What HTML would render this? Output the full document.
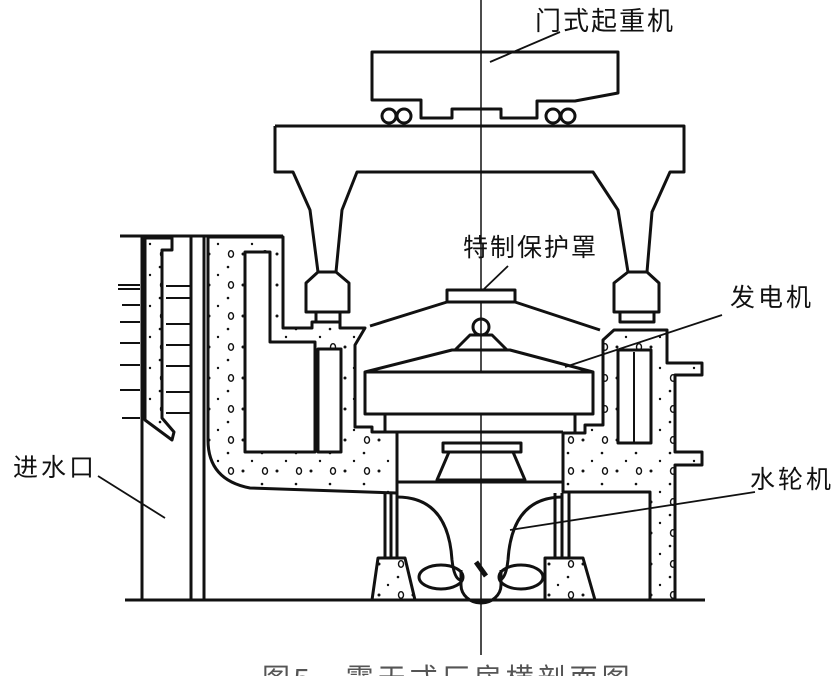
<!DOCTYPE html>
<html><head><meta charset="utf-8"><style>
html,body{margin:0;padding:0;background:#fff;}
svg{display:block;}
text{font-family:"Liberation Sans","Noto Sans CJK SC",sans-serif;fill:#111;}
</style></head><body>
<svg width="835" height="676" viewBox="0 0 835 676" xmlns="http://www.w3.org/2000/svg">
<defs>
<pattern id="dots" width="34" height="31" patternUnits="userSpaceOnUse">
<rect width="34" height="31" fill="#fff"/>
<circle cx="5" cy="6" r="1.5" fill="#111"/>
<circle cx="24" cy="19" r="1.3" fill="#111"/>
<circle cx="14" cy="27" r="1.2" fill="#111"/>
<ellipse cx="27" cy="6" rx="2.5" ry="3.3" fill="none" stroke="#111" stroke-width="1.4"/>
</pattern>
</defs>
<g fill="none" stroke="#111" stroke-width="3" stroke-linejoin="round">
<line x1="481" y1="0" x2="481" y2="655" stroke-width="1.5"/>
<!-- trolley -->
<path d="M372,52 L618,52 L618,93 L575,101 L537,101 L537,118 L501,118 L501,109 L452,109 L452,118 L421,118 L421,100 L372,100 Z"/>
<circle cx="389" cy="116" r="7"/><circle cx="404" cy="116" r="7"/>
<circle cx="553" cy="116" r="7"/><circle cx="568" cy="116" r="7"/>
<!-- gantry -->
<path d="M275,126 L684,126 L684,172 L670,172 L652,212 L647,272 M628,272 L618,210 L593,172 L357,172 L342,210 L336,272 M318,272 L310,210 L293,172 L275,172 L275,126"/>
<path d="M318,272 L336,272 L349,283 L349,312 L306,312 L306,283 Z"/>
<rect x="316" y="312" width="24" height="10"/>
<path d="M628,272 L647,272 L659,283 L659,312 L614,312 L614,283 Z"/>
<rect x="620" y="312" width="34" height="10"/>
<!-- left wall -->
<line x1="120" y1="236" x2="283" y2="236"/>
<line x1="142" y1="237" x2="142" y2="600"/>
<line x1="191" y1="237" x2="191" y2="600"/>
<line x1="204" y1="237" x2="204" y2="600"/>
<path d="M145,238 L172,238 L172,250 L162,250 L162,418 L174,432 L172,440 L145,420 Z" fill="url(#dots)"/>
<g stroke-width="2">
<line x1="118" y1="285" x2="140" y2="285"/><line x1="118" y1="289" x2="140" y2="289"/>
<line x1="122" y1="305" x2="140" y2="305"/><line x1="120" y1="322" x2="140" y2="322"/>
<line x1="120" y1="343" x2="140" y2="343"/><line x1="120" y1="365" x2="140" y2="365"/>
<line x1="120" y1="390" x2="140" y2="390"/><line x1="122" y1="418" x2="140" y2="418"/>
<line x1="166" y1="286" x2="190" y2="286"/><line x1="166" y1="298" x2="190" y2="298"/>
<line x1="166" y1="324" x2="190" y2="324"/><line x1="166" y1="345" x2="190" y2="345"/>
<line x1="166" y1="366" x2="190" y2="366"/><line x1="166" y1="392" x2="190" y2="392"/>
<line x1="166" y1="413" x2="190" y2="413"/>
</g>
<!-- left concrete -->
<path d="M208,237 L283,237 L283,328 L312,328 L312,322 L340,322 L340,328 L365,328 L355,345 L355,427 L372,427 L372,432 L397,432 L397,493 L250,488 Q208,480 208,440 Z" fill="url(#dots)"/>
<path d="M245,252 L270,252 L270,342 L315,342 L315,452 L245,452 Z" fill="#fff"/>
<rect x="318" y="349" width="23" height="103" fill="#fff"/>
<!-- right concrete -->
<path d="M563,433 L585,433 L585,425 L603,425 L603,340 L614,330 L667,330 L667,363 L702,363 L702,375 L675,375 L675,452 L702,452 L702,465 L675,465 L675,600 L650,600 L650,492 L563,492 Z" fill="url(#dots)"/>
<rect x="618" y="350" width="33" height="93" fill="#fff"/>
<line x1="634" y1="352" x2="634" y2="443" stroke-width="2"/>
<!-- generator -->
<rect x="447" y="290" width="68" height="12" fill="#fff"/>
<path d="M447,302 L370,326 M515,302 L600,330"/>
<circle cx="481" cy="327" r="8"/>
<path d="M455,350 L470,335 L492,335 L507,350 Z"/>
<path d="M365,372 L452,350 L510,350 L593,372"/>
<rect x="365" y="372" width="228" height="42" fill="#fff"/>
<line x1="385" y1="414" x2="385" y2="432"/><line x1="575" y1="414" x2="575" y2="432"/>
<line x1="397" y1="432" x2="563" y2="432"/>
<rect x="443" y="443" width="78" height="9"/>
<path d="M449,452 L437,480 L525,480 L513,452"/>
<line x1="397" y1="482" x2="563" y2="482"/>
<!-- turbine -->
<line x1="385" y1="493" x2="385" y2="558"/><line x1="391" y1="493" x2="391" y2="558"/><line x1="397" y1="493" x2="397" y2="558"/>
<line x1="555" y1="493" x2="555" y2="558"/><line x1="562" y1="493" x2="562" y2="558"/><line x1="569" y1="493" x2="569" y2="558"/>
<path d="M397,497 Q448,497 452,560 Q454,578 460,580"/>
<path d="M563,497 Q512,497 508,560 Q506,578 500,580"/>
<path d="M378,558 L405,558 L415,600 L372,600 Z" fill="url(#dots)"/>
<path d="M545,558 L583,558 L595,600 L545,600 Z" fill="url(#dots)"/>
<ellipse cx="441" cy="577" rx="22" ry="12"/><ellipse cx="521" cy="577" rx="22" ry="12"/>
<path d="M461,570 L461,585 A20,18 0 0 0 501,585 L501,570"/>
<path d="M476,562 L486,576" stroke-width="5"/>
<line x1="125" y1="600" x2="705" y2="600"/>
<g stroke-width="1.8">
<line x1="560" y1="32" x2="490" y2="62"/>
<line x1="508" y1="266" x2="483" y2="290"/>
<line x1="722" y1="315" x2="565" y2="367"/>
<line x1="755" y1="492" x2="510" y2="530"/>
<line x1="98" y1="476" x2="165" y2="518"/>
</g>
</g>
<text x="535" y="30" font-size="26" letter-spacing="2">门式起重机</text>
<text x="463" y="256" font-size="25" letter-spacing="2">特制保护罩</text>
<text x="730" y="306" font-size="25" letter-spacing="3">发电机</text>
<text x="750" y="488" font-size="25" letter-spacing="3">水轮机</text>
<text x="13" y="476" font-size="25" letter-spacing="3">进水口</text>
<text x="262" y="688" font-size="28" letter-spacing="4" style="fill:#555">图5　露天式厂房横剖面图</text>
</svg>
</body></html>
